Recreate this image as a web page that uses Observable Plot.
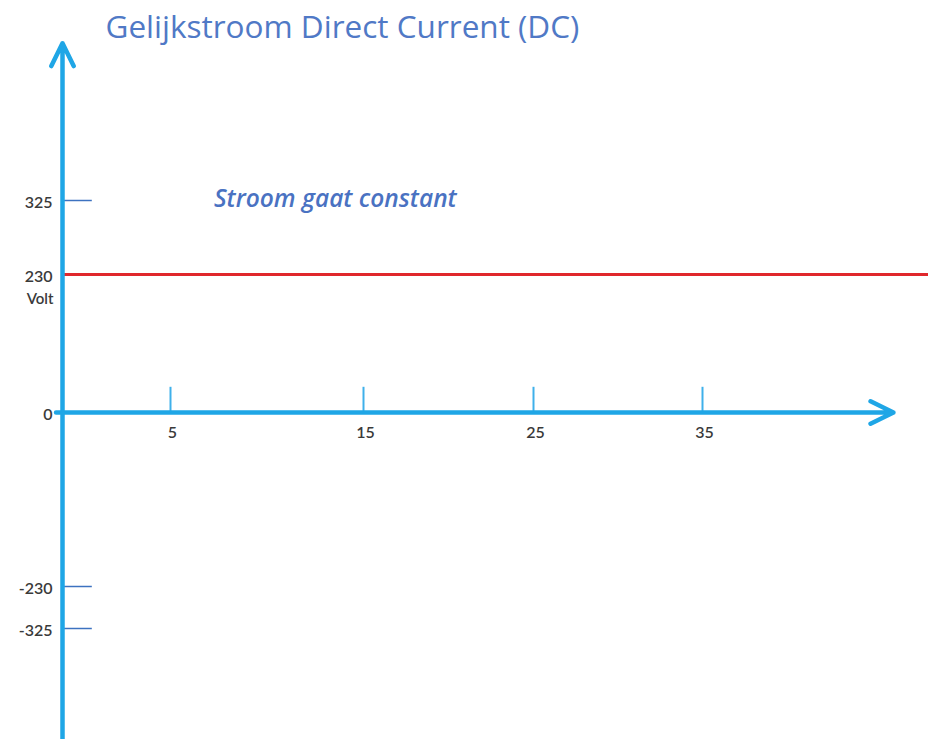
<!DOCTYPE html>
<html>
<head>
<meta charset="utf-8">
<script src="https://cdn.jsdelivr.net/npm/d3@7"></script>
<script src="https://cdn.jsdelivr.net/npm/@observablehq/plot@0.6"></script>
<style>
  html, body { margin: 0; padding: 0; background: #ffffff; }
  #chart svg { display: block; }
</style>
</head>
<body>
<div id="chart"></div>
<script>
// ---- data ----
const titleText = "Gelijkstroom Direct Current (DC)";
const noteText = "Stroom gaat constant";
const unitLabel = "Volt";

const xTickValues = [5, 15, 25, 35];            // time ticks
const xTickLabels = ["5", "15", "25", "35"];
const yTickMarks = [325, -230, -325];           // short tick marks on the voltage axis
const yLabelValues = [325, 230, 0, -230, -325]; // voltage labels
const yLabelTexts = ["325", "230", "0", "-230", "-325"];

const dcTime = [0, 49];        // DC line start/end (time)
const dcVolts = [230, 230];    // constant 230 V

const xAxisSpan = [-0.3, 46.3];   // extent of the time axis arrow
const yAxisSpan = [-580, 527];    // extent of the voltage axis arrow

// scale break points (drawing is not to scale in the original)
const xScaleDomain = [0, 5, 15, 25, 35];
const xScaleRange = [62, 170, 363, 533, 702];
const yScaleDomain = [-325, -230, 0, 230, 325];
const yScaleRange = [628, 586, 412, 274, 200];

// ---- build ----
const dcLine = dcTime.map((t, i) => ({t, v: dcVolts[i]}));
const xTicks = xTickValues.map((x, i) => ({x, label: xTickLabels[i]}));
const yLabels = yLabelValues.map((y, i) => ({y, label: yLabelTexts[i]}));
const axes = [
  {x1: xAxisSpan[0], y1: 0, x2: xAxisSpan[1], y2: 0},
  {x1: 0, y1: yAxisSpan[0], x2: 0, y2: yAxisSpan[1]}
];

const axisBlue = "#1fa6e6";
const textGray = "#3a3a3a";
const font = "Lato, 'Open Sans', sans-serif";

const chart = Plot.plot({
  width: 928,
  height: 739,
  margin: 0,
  style: {background: "#ffffff", fontFamily: font},
  x: {type: "linear", domain: xScaleDomain, range: xScaleRange, axis: null},
  y: {type: "linear", domain: yScaleDomain, range: yScaleRange, axis: null},
  marks: [
    // DC line
    Plot.line(dcLine, {x: "t", y: "v", stroke: "#e0282c", strokeWidth: 3}),
    // x tick marks
    Plot.ruleX(xTicks, {x: "x", y1: 0, y2: 42, stroke: "#3fb0ea", strokeWidth: 2}),
    // y tick marks
    Plot.ruleY(yTickMarks, {y: d => d, x1: 0, x2: 1.38, stroke: "#3d72c0", strokeWidth: 1.5}),
    // axes with arrowheads
    Plot.arrow(axes, {x1: "x1", y1: "y1", x2: "x2", y2: "y2", stroke: axisBlue, strokeWidth: 4.5, headLength: 8.5, headAngle: 52}),
    // x labels
    Plot.text(xTicks, {x: "x", y: 0, dy: 20, dx: 2, text: "label", fill: textGray, fontSize: 16, fontWeight: 600}),
    // y labels
    Plot.text(yLabels, {x: 0, y: "y", dx: -10, dy: 2, text: "label", textAnchor: "end", fill: textGray, fontSize: 16, fontWeight: 600}),
    Plot.text([unitLabel], {x: 0, y: 230, dx: -9, dy: 25, text: d => d, textAnchor: "end", fill: textGray, fontSize: 15, fontWeight: 600}),
    // annotation
    Plot.text([noteText], {x: 7.25, y: 327, text: d => d, textAnchor: "start", fill: "#4a72c2", fontFamily: "'Open Sans', sans-serif", fontSize: 24.5, fontStyle: "italic", fontWeight: 600}),
    // title
    Plot.text([titleText], {frameAnchor: "top-left", lineAnchor: "top", dx: 105, dy: 15, text: d => d, textAnchor: "start", fill: "#5079c6", fontFamily: "'Open Sans', sans-serif", fontSize: 31.5, fontWeight: 400})
  ]
});
document.getElementById("chart").appendChild(chart);
</script>
</body>
</html>
